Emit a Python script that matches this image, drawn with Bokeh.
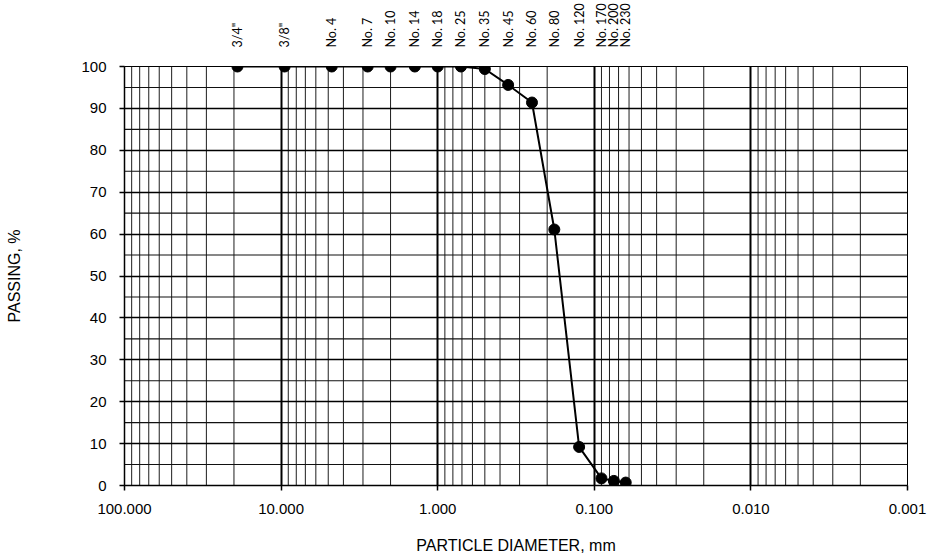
from bokeh.plotting import figure
from bokeh.models import Range1d, FixedTicker, PrintfTickFormatter, LogAxis
from bokeh.embed import file_html
from bokeh.resources import INLINE
import math

# ---- data ----
sieves = ['3/4"', '3/8"', 'No. 4', 'No. 7', 'No. 10', 'No. 14', 'No. 18', 'No. 25',
          'No. 35', 'No. 45', 'No. 60', 'No. 80', 'No. 120', 'No. 170', 'No. 200', 'No. 230']
diameter_mm = [19.0, 9.5, 4.75, 2.8, 2.0, 1.4, 1.0, 0.71,
               0.5, 0.355, 0.25, 0.18, 0.125, 0.09, 0.075, 0.063]
passing_pct = [100, 100, 100, 100, 100, 100, 100, 100,
               99.4, 95.6, 91.4, 61.1, 9.2, 1.7, 1.1, 0.7]
x_ticks = [100, 10, 1, 0.1, 0.01, 0.001]
y_ticks = [0, 10, 20, 30, 40, 50, 60, 70, 80, 90, 100]

p = figure(width=929, height=560, x_axis_type="log",
           x_range=Range1d(100, 0.001), y_range=Range1d(0, 100),
           output_backend="svg", toolbar_location=None,
           min_border_left=124, min_border_right=22,
           min_border_top=66, min_border_bottom=75)
p.background_fill_color = "white"
p.border_fill_color = "white"
p.outline_line_color = "black"
p.outline_line_width = 1

# minor grid lines (1..9 within each decade, and every 5 %)
minor_x = [m * 10.0 ** e for e in range(-3, 2) for m in range(2, 10)]
minor_y = [v + 5 for v in y_ticks[:-1]]
p.segment(x0=minor_x, y0=[0] * len(minor_x), x1=minor_x, y1=[100] * len(minor_x),
          line_color="#1e1e1e", line_width=1, level="underlay")
p.segment(x0=[100] * len(minor_y), y0=minor_y, x1=[0.001] * len(minor_y), y1=minor_y,
          line_color="#111111", line_width=1.1, level="underlay")

# major grids
p.xgrid.ticker = FixedTicker(ticks=x_ticks)
p.xgrid.grid_line_color = "black"
p.xgrid.grid_line_width = 2
p.ygrid.ticker = FixedTicker(ticks=y_ticks)
p.ygrid.grid_line_color = "black"
p.ygrid.grid_line_width = 1.7

# axes
p.xaxis.ticker = FixedTicker(ticks=x_ticks, minor_ticks=[])
p.xaxis.formatter = PrintfTickFormatter(format="%.3f")
p.yaxis.ticker = FixedTicker(ticks=y_ticks, minor_ticks=[])
for ax in (p.xaxis[0], p.yaxis[0]):
    ax.axis_line_color = "black"
    ax.axis_line_width = 1.5
    ax.major_tick_line_color = "black"
    ax.major_tick_line_width = 1.5
    ax.major_tick_in = 0
    ax.major_tick_out = 5
    ax.minor_tick_out = 0
    ax.minor_tick_in = 0
    ax.major_label_text_font = "Liberation Sans"
    ax.major_label_text_font_size = "15px"
    ax.major_label_text_color = "black"
    ax.axis_label_text_font = "Liberation Sans"
    ax.axis_label_text_font_size = "16px"
    ax.axis_label_text_font_style = "normal"
    ax.axis_label_text_color = "black"

p.xaxis.axis_label = "PARTICLE DIAMETER, mm"
p.xaxis.major_label_standoff = 13
p.xaxis.axis_label_standoff = 20
p.yaxis.axis_label = "PASSING, %"
p.yaxis.major_label_standoff = 13
p.yaxis.axis_label_standoff = 55

# sieve names above the frame, placed at each sieve's opening size
top = LogAxis(ticker=FixedTicker(ticks=diameter_mm, minor_ticks=[]),
              major_label_overrides={d: s for d, s in zip(diameter_mm, sieves)},
              major_label_orientation=math.pi / 2,
              major_label_standoff=19,
              major_tick_in=0, major_tick_out=0, minor_tick_in=0, minor_tick_out=0,
              axis_line_color=None,
              major_label_text_font="Lato", major_label_text_font_size="12.5px",
              major_label_text_color="black")
p.add_layout(top, "above")

# data
p.line(diameter_mm, passing_pct, line_color="black", line_width=2)
p.scatter(diameter_mm, passing_pct, size=11, fill_color="black", line_color="black")

open("out.html", "w").write(file_html(p, INLINE))
